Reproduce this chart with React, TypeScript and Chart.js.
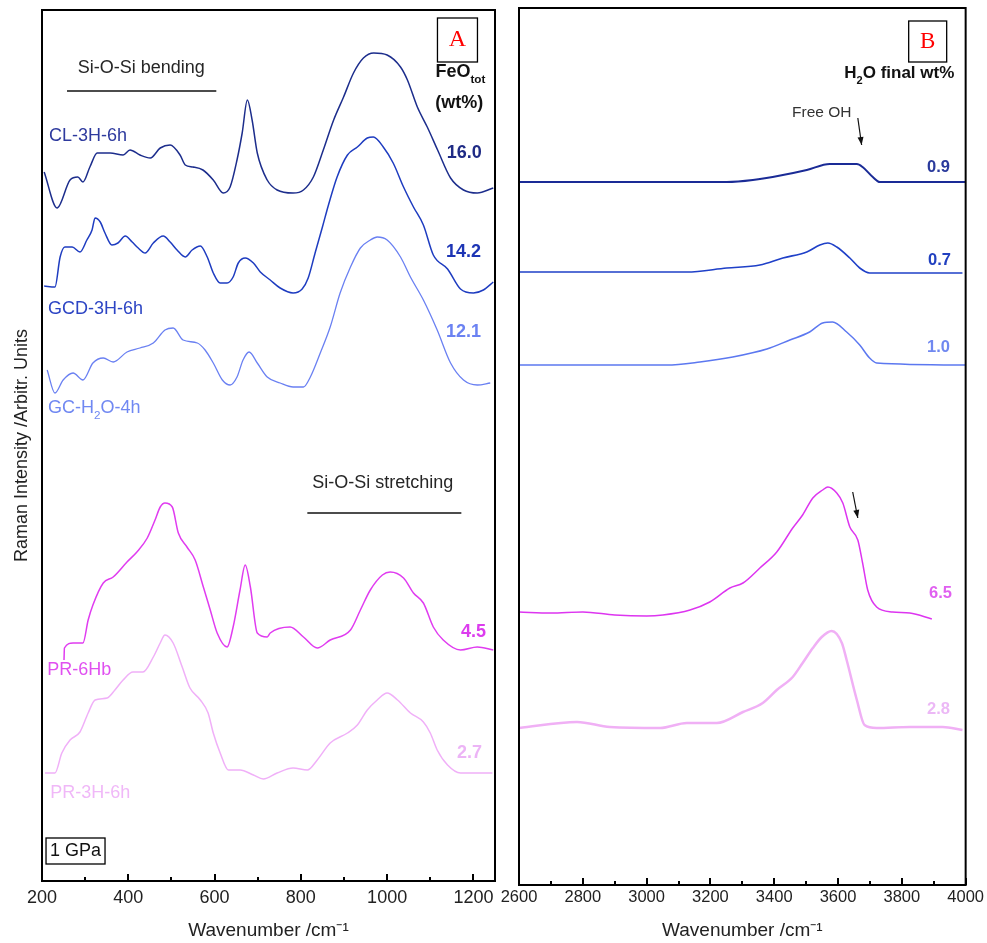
import React, { useEffect, useRef } from "react";
import { Chart, registerables } from "chart.js";
Chart.register(...registerables);

const SANS = "'Liberation Sans', Arial, Helvetica, sans-serif";
const SERIF = "'Liberation Serif', 'Times New Roman', serif";

// ---------------- Panel A (low wavenumber) ----------------
const A_MAJOR_TICKS = [200, 400, 600, 800, 1000, 1200];
const A_MINOR_TICKS = [300, 500, 700, 900, 1100];

const clWave = [205, 235, 265, 283, 295, 311, 328, 358, 388, 404, 427, 451, 474, 497, 520, 532, 550, 573, 597, 620, 636, 652, 664, 676, 687, 699, 722, 745, 782, 806, 829, 852, 876, 899, 922, 945, 969, 1000, 1031, 1047, 1070, 1093, 1117, 1147, 1177, 1209, 1246];
const clInt = [709, 673, 701, 704, 699, 714, 728, 728, 726, 731, 726, 723, 733, 736, 726, 716, 714, 711, 701, 688, 694, 721, 748, 781, 761, 728, 701, 691, 688, 691, 704, 731, 761, 784, 808, 823, 828, 826, 814, 801, 774, 754, 731, 703, 691, 688, 693];

const gcdWave = [205, 230, 242, 253, 270, 288, 304, 316, 323, 335, 346, 362, 376, 393, 409, 423, 439, 458, 481, 497, 513, 532, 548, 567, 583, 597, 613, 629, 643, 655, 671, 690, 706, 729, 752, 782, 803, 817, 833, 850, 864, 884, 908, 931, 954, 968, 991, 1014, 1038, 1061, 1084, 1107, 1140, 1170, 1200, 1223, 1246];
const gcdInt = [595, 594, 624, 634, 634, 629, 641, 651, 663, 659, 648, 636, 638, 645, 639, 633, 628, 638, 645, 639, 631, 624, 631, 635, 624, 608, 598, 598, 604, 618, 623, 618, 609, 601, 593, 588, 592, 603, 628, 654, 676, 704, 726, 734, 743, 744, 734, 718, 694, 674, 656, 626, 612, 592, 588, 591, 599];

const gchWave = [212, 230, 249, 272, 295, 318, 342, 365, 397, 427, 458, 485, 504, 527, 560, 578, 597, 618, 636, 652, 666, 680, 699, 722, 752, 782, 806, 822, 845, 868, 891, 915, 938, 961, 977, 1000, 1031, 1054, 1084, 1116, 1147, 1177, 1209, 1239];
const gchInt = [511, 488, 501, 508, 501, 518, 523, 519, 529, 533, 538, 551, 553, 541, 538, 531, 518, 501, 496, 504, 521, 529, 518, 504, 498, 494, 494, 504, 528, 554, 588, 614, 633, 641, 644, 641, 624, 604, 581, 551, 518, 501, 496, 498];

const pr6Wave = [251, 252, 272, 295, 307, 318, 342, 365, 397, 420, 444, 462, 474, 485, 502, 516, 536, 555, 574, 590, 606, 629, 643, 659, 671, 683, 699, 722, 729, 775, 806, 838, 868, 915, 938, 961, 989, 1007, 1038, 1061, 1084, 1107, 1130, 1170, 1209, 1246];
const pr6Int = [221, 233, 238, 238, 261, 276, 298, 304, 319, 329, 343, 361, 374, 378, 374, 348, 334, 321, 294, 271, 248, 234, 254, 291, 316, 294, 248, 244, 248, 254, 244, 233, 241, 251, 271, 291, 306, 309, 303, 288, 278, 254, 241, 231, 234, 231];

const pr3Wave = [207, 230, 246, 265, 288, 307, 323, 351, 369, 388, 411, 434, 458, 474, 485, 504, 525, 543, 567, 585, 597, 613, 632, 659, 690, 713, 745, 782, 815, 838, 868, 908, 931, 954, 977, 1000, 1024, 1054, 1084, 1100, 1116, 1140, 1170, 1200, 1244];
const pr3Int = [108, 108, 128, 141, 149, 168, 181, 183, 191, 201, 209, 209, 224, 238, 246, 238, 214, 193, 181, 168, 148, 128, 111, 111, 106, 102, 108, 113, 111, 121, 138, 148, 156, 171, 181, 188, 181, 168, 159, 148, 131, 116, 108, 108, 108];

// ---------------- Panel B (OH region) ----------------
const B_MAJOR_TICKS = [2600, 2800, 3000, 3200, 3400, 3600, 3800, 4000];
const B_MINOR_TICKS = [2700, 2900, 3100, 3300, 3500, 3700, 3900];

const h09Wave = [2600, 3000, 3251, 3333, 3427, 3502, 3574, 3620, 3659, 3677, 3709, 3731, 4000];
const h09Int = [703, 703, 703, 705, 710, 715, 721, 721, 721, 718, 708, 703, 703];

const h07Wave = [2600, 3126, 3251, 3355, 3427, 3502, 3543, 3568, 3596, 3637, 3668, 3699, 3990];
const h07Int = [613, 613, 617, 620, 627, 633, 640, 642, 638, 627, 617, 612, 612];

const h10Wave = [2600, 3063, 3167, 3270, 3377, 3449, 3511, 3552, 3583, 3627, 3668, 3699, 3721, 4000];
const h10Int = [520, 520, 523, 528, 536, 545, 553, 562, 563, 553, 540, 527, 522, 520];

const h65Wave = [2600, 2700, 2800, 2900, 3000, 3051, 3136, 3198, 3261, 3302, 3355, 3408, 3458, 3489, 3521, 3552, 3568, 3596, 3615, 3637, 3662, 3677, 3693, 3721, 3771, 3825, 3894];
const h65Int = [273, 272, 273, 270, 269, 270, 275, 283, 297, 302, 317, 333, 357, 370, 387, 395, 398, 392, 382, 358, 345, 322, 295, 278, 273, 272, 266];

const h28Wave = [2600, 2782, 2885, 3042, 3126, 3220, 3302, 3364, 3408, 3458, 3489, 3521, 3549, 3580, 3612, 3627, 3659, 3683, 3721, 3825, 3928, 3990];
const h28Int = [157, 163, 158, 157, 162, 162, 173, 182, 195, 208, 222, 237, 248, 254, 242, 225, 185, 160, 157, 158, 158, 155];

type Part = { t: string; sub?: boolean };
type Note = {
  parts: Part[];
  x: number;
  y: number;
  color: string;
  size: number;
  bold?: boolean;
  align: "left" | "center" | "right";
  family?: string;
  box?: { w: number; h: number };
};
type Rule = { x1: number; x2: number; y: number };
type Arrow = { x1: number; y1: number; x2: number; y2: number };

const A_NOTES: Note[] = [
  { parts: [{ t: "A" }], x: 1163, y: 841, color: "#ff0000", size: 24, align: "center", family: SERIF, box: { w: 40, h: 44 } },
  { parts: [{ t: "Si-O-Si bending" }], x: 430, y: 813, color: "#262626", size: 18, align: "center" },
  { parts: [{ t: "FeO" }, { t: "tot", sub: true }], x: 1112, y: 809, color: "#111111", size: 18, bold: true, align: "left" },
  { parts: [{ t: "(wt%)" }], x: 1167, y: 778, color: "#111111", size: 18, bold: true, align: "center" },
  { parts: [{ t: "CL-3H-6h" }], x: 216, y: 745, color: "#2e3a9e", size: 18, align: "left" },
  { parts: [{ t: "16.0" }], x: 1179, y: 728, color: "#1f2b85", size: 18, bold: true, align: "center" },
  { parts: [{ t: "14.2" }], x: 1177, y: 629, color: "#1d35b5", size: 18, bold: true, align: "center" },
  { parts: [{ t: "GCD-3H-6h" }], x: 214, y: 572, color: "#2d45c4", size: 18, align: "left" },
  { parts: [{ t: "12.1" }], x: 1177, y: 549, color: "#6b82f2", size: 18, bold: true, align: "center" },
  { parts: [{ t: "GC-H" }, { t: "2", sub: true }, { t: "O-4h" }], x: 214, y: 473, color: "#7088f2", size: 18, align: "left" },
  { parts: [{ t: "Si-O-Si stretching" }], x: 990, y: 398, color: "#262626", size: 18, align: "center" },
  { parts: [{ t: "4.5" }], x: 1200, y: 249, color: "#dc3cee", size: 18, bold: true, align: "center" },
  { parts: [{ t: "PR-6Hb" }], x: 212, y: 211, color: "#e050f0", size: 18, align: "left" },
  { parts: [{ t: "2.7" }], x: 1191, y: 128, color: "#ecb4f6", size: 18, bold: true, align: "center" },
  { parts: [{ t: "PR-3H-6h" }], x: 219, y: 88, color: "#f0b8f8", size: 18, align: "left" },
  { parts: [{ t: "1 GPa" }], x: 277.7, y: 30, color: "#111111", size: 18, align: "center", box: { w: 59, h: 26 } },
];
const A_RULES: Rule[] = [
  { x1: 258, x2: 604, y: 790 },
  { x1: 815, x2: 1172, y: 368 },
];

const B_NOTES: Note[] = [
  { parts: [{ t: "B" }], x: 3881, y: 843.5, color: "#ff0000", size: 23, align: "center", family: SERIF, box: { w: 38, h: 41 } },
  { parts: [{ t: "H" }, { t: "2", sub: true }, { t: "O final wt%" }], x: 3792, y: 812, color: "#111111", size: 17, bold: true, align: "center" },
  { parts: [{ t: "Free OH" }], x: 3549, y: 772, color: "#333333", size: 15.5, align: "center" },
  { parts: [{ t: "0.9" }], x: 3915, y: 718, color: "#2a3a9c", size: 16.5, bold: true, align: "center" },
  { parts: [{ t: "0.7" }], x: 3918, y: 625, color: "#2140c0", size: 16.5, bold: true, align: "center" },
  { parts: [{ t: "1.0" }], x: 3915, y: 538, color: "#7088f0", size: 16.5, bold: true, align: "center" },
  { parts: [{ t: "6.5" }], x: 3921, y: 292, color: "#e060f0", size: 16.5, bold: true, align: "center" },
  { parts: [{ t: "2.8" }], x: 3915, y: 176, color: "#ecb8f6", size: 16.5, bold: true, align: "center" },
];
const B_ARROWS: Arrow[] = [
  { x1: 3662, y1: 767, x2: 3674, y2: 740 },
  { x1: 3646, y1: 393, x2: 3662, y2: 367 },
];

function pairs(xs: number[], ys: number[]) {
  return xs.map((x, i) => ({ x, y: ys[i] }));
}

function drawRich(ctx: CanvasRenderingContext2D, n: Note, px: number, py: number) {
  const fam = n.family || SANS;
  const fontFor = (s: number) => `${n.bold ? "bold " : ""}${s}px ${fam}`;
  const subSize = n.size * 0.65;
  let total = 0;
  const widths = n.parts.map((p) => {
    ctx.font = fontFor(p.sub ? subSize : n.size);
    const w = ctx.measureText(p.t).width;
    total += w;
    return w;
  });
  let cx = n.align === "center" ? px - total / 2 : n.align === "right" ? px - total : px;
  ctx.textAlign = "left";
  ctx.textBaseline = "middle";
  ctx.fillStyle = n.color;
  n.parts.forEach((p, i) => {
    ctx.font = fontFor(p.sub ? subSize : n.size);
    ctx.fillText(p.t, cx, py + (p.sub ? n.size * 0.45 : 0));
    cx += widths[i];
  });
  if (n.box) {
    ctx.strokeStyle = "#000";
    ctx.lineWidth = 1.3;
    ctx.strokeRect(px - n.box.w / 2, py - n.box.h / 2, n.box.w, n.box.h);
  }
}

function makeDecor(major: number[], minor: number[], notes: Note[], rules: Rule[], arrows: Arrow[]) {
  return {
    id: "decor",
    afterDatasetsDraw(chart: any) {
      const { ctx, chartArea: ca, scales } = chart;
      const xs = scales.x;
      const ys = scales.y;
      ctx.save();
      ctx.strokeStyle = "#000";
      ctx.lineWidth = 2;
      ctx.strokeRect(ca.left, ca.top, ca.right - ca.left, ca.bottom - ca.top);
      ctx.beginPath();
      major.forEach((v) => {
        const p = Math.round(xs.getPixelForValue(v));
        ctx.moveTo(p, ca.bottom);
        ctx.lineTo(p, ca.bottom - 7);
      });
      minor.forEach((v) => {
        const p = Math.round(xs.getPixelForValue(v));
        ctx.moveTo(p, ca.bottom);
        ctx.lineTo(p, ca.bottom - 4);
      });
      ctx.stroke();
      ctx.lineWidth = 1.5;
      ctx.strokeStyle = "#111";
      rules.forEach((r) => {
        const y = ys.getPixelForValue(r.y);
        ctx.beginPath();
        ctx.moveTo(xs.getPixelForValue(r.x1), y);
        ctx.lineTo(xs.getPixelForValue(r.x2), y);
        ctx.stroke();
      });
      arrows.forEach((a) => {
        const x1 = xs.getPixelForValue(a.x1), y1 = ys.getPixelForValue(a.y1);
        const x2 = xs.getPixelForValue(a.x2), y2 = ys.getPixelForValue(a.y2);
        ctx.strokeStyle = "#111";
        ctx.fillStyle = "#111";
        ctx.lineWidth = 1.2;
        ctx.beginPath();
        ctx.moveTo(x1, y1);
        ctx.lineTo(x2, y2);
        ctx.stroke();
        const ang = Math.atan2(y2 - y1, x2 - x1);
        const L = 8, W = 3;
        ctx.beginPath();
        ctx.moveTo(x2, y2);
        ctx.lineTo(x2 - L * Math.cos(ang) + W * Math.sin(ang), y2 - L * Math.sin(ang) - W * Math.cos(ang));
        ctx.lineTo(x2 - L * Math.cos(ang) - W * Math.sin(ang), y2 - L * Math.sin(ang) + W * Math.cos(ang));
        ctx.closePath();
        ctx.fill();
      });
      notes.forEach((n) => drawRich(ctx, n, xs.getPixelForValue(n.x), ys.getPixelForValue(n.y)));
      ctx.restore();
    },
  };
}

function lineSet(data: { x: number; y: number }[], color: string, width: number) {
  return {
    data,
    borderColor: color,
    backgroundColor: color,
    borderWidth: width,
    pointRadius: 0,
    cubicInterpolationMode: "monotone",
    fill: false,
  };
}

function buildA(): any {
  return {
    type: "line",
    data: {
      datasets: [
        lineSet(pairs(clWave, clInt), "#1c2d8c", 1.5),
        lineSet(pairs(gcdWave, gcdInt), "#1e3cc0", 1.5),
        lineSet(pairs(gchWave, gchInt), "#6a80f2", 1.3),
        lineSet(pairs(pr6Wave, pr6Int), "#e03cf0", 1.5),
        lineSet(pairs(pr3Wave, pr3Int), "#f0b0f8", 1.5),
      ],
    },
    options: {
      animation: false,
      responsive: false,
      layout: { padding: { top: 10, right: 17, left: 0, bottom: 0 } },
      plugins: { legend: { display: false }, tooltip: { enabled: false } },
      scales: {
        x: {
          type: "linear",
          min: 200,
          max: 1250,
          afterBuildTicks: (s: any) => {
            s.ticks = A_MAJOR_TICKS.map((value) => ({ value }));
          },
          afterFit: (s: any) => {
            s.height = 62;
          },
          grid: { display: false, drawTicks: false },
          border: { display: false },
          ticks: { color: "#222", padding: 6, maxRotation: 0, autoSkip: false, font: { family: SANS, size: 18 }, callback: (v: any) => String(v) },
          title: { display: true, text: "Wavenumber /cm⁻¹", color: "#222", font: { family: SANS, size: 19 }, padding: { top: 0, bottom: 1 } },
        },
        y: {
          type: "linear",
          min: 0,
          max: 871,
          afterFit: (s: any) => {
            s.width = 42;
          },
          grid: { display: false, drawTicks: false },
          border: { display: false },
          ticks: { display: false },
          title: { display: true, text: "Raman Intensity /Arbitr. Units", color: "#222", font: { family: SANS, size: 18 }, padding: { top: 11, bottom: 0 } },
        },
      },
    },
    plugins: [makeDecor(A_MAJOR_TICKS, A_MINOR_TICKS, A_NOTES, A_RULES, [])],
  };
}

function buildB(): any {
  return {
    type: "line",
    data: {
      datasets: [
        lineSet(pairs(h09Wave, h09Int), "#1a2b96", 2),
        lineSet(pairs(h07Wave, h07Int), "#1f40c8", 1.6),
        lineSet(pairs(h10Wave, h10Int), "#5c78f0", 1.5),
        lineSet(pairs(h65Wave, h65Int), "#dd35f0", 1.5),
        lineSet(pairs(h28Wave, h28Int), "#f0b0f5", 2.5),
      ],
    },
    options: {
      animation: false,
      responsive: false,
      layout: { padding: { top: 8, right: 21, left: 27, bottom: 0 } },
      plugins: { legend: { display: false }, tooltip: { enabled: false } },
      scales: {
        x: {
          type: "linear",
          min: 2600,
          max: 4000,
          afterBuildTicks: (s: any) => {
            s.ticks = B_MAJOR_TICKS.map((value) => ({ value }));
          },
          afterFit: (s: any) => {
            s.height = 58;
          },
          grid: { display: false, drawTicks: false },
          border: { display: false },
          ticks: { color: "#222", padding: 3, maxRotation: 0, autoSkip: false, font: { family: SANS, size: 16.5 }, callback: (v: any) => String(v) },
          title: { display: true, text: "Wavenumber /cm⁻¹", color: "#222", font: { family: SANS, size: 19 }, padding: { top: 0, bottom: 1 } },
        },
        y: {
          type: "linear",
          display: false,
          min: 0,
          max: 877,
        },
      },
    },
    plugins: [makeDecor(B_MAJOR_TICKS, B_MINOR_TICKS, B_NOTES, [], B_ARROWS)],
  };
}

export default function App() {
  const refA = useRef<HTMLCanvasElement>(null);
  const refB = useRef<HTMLCanvasElement>(null);
  useEffect(() => {
    const a = new Chart(refA.current as HTMLCanvasElement, buildA());
    const b = new Chart(refB.current as HTMLCanvasElement, buildB());
    return () => {
      a.destroy();
      b.destroy();
    };
  }, []);
  return (
    <div style={{ position: "absolute", left: 0, top: 0, width: 987, height: 943, background: "#ffffff", overflow: "hidden" }}>
      <canvas ref={refA} width={512} height={943} style={{ position: "absolute", left: 0, top: 0 }} />
      <canvas ref={refB} width={495} height={943} style={{ position: "absolute", left: 492, top: 0 }} />
    </div>
  );
}
